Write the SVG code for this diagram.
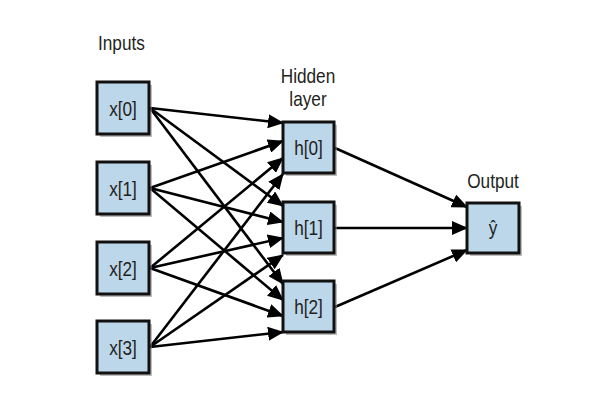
<svg xmlns="http://www.w3.org/2000/svg" width="589" height="400" viewBox="0 0 589 400">
<style>
text{font-family:"Liberation Sans",Arial,sans-serif;fill:#231f20;font-size:21px}
.m{text-anchor:middle}
.box{fill:#bcd6ea;stroke:#111;stroke-width:3}
.sh{fill:#888;opacity:0.55}
.e{stroke:#000;stroke-width:2.6;fill:none;marker-end:url(#ah)}
</style>
<defs>
<marker id="ah" markerUnits="userSpaceOnUse" markerWidth="16" markerHeight="14" refX="15" refY="7" orient="auto">
<path d="M0,0 L16,7 L0,14 Z" fill="#000"/>
</marker>
</defs>
<rect width="589" height="400" fill="#fff"/>
<text transform="translate(98,50) scale(0.82,1)">Inputs</text>
<text class="m" transform="translate(308,83) scale(0.82,1)">Hidden</text>
<text class="m" transform="translate(308,106) scale(0.82,1)">layer</text>
<text class="m" transform="translate(493,188) scale(0.82,1)">Output</text>
<g id="connectors">
<line class="e" x1="150" y1="108" x2="283" y2="123"/>
<line class="e" x1="150" y1="108" x2="283" y2="206"/>
<line class="e" x1="150" y1="108" x2="283" y2="284"/>
<line class="e" x1="150" y1="188" x2="283" y2="141"/>
<line class="e" x1="150" y1="188" x2="283" y2="222"/>
<line class="e" x1="150" y1="188" x2="283" y2="300"/>
<line class="e" x1="150" y1="268" x2="283" y2="158"/>
<line class="e" x1="150" y1="268" x2="283" y2="238"/>
<line class="e" x1="150" y1="268" x2="283" y2="316"/>
<line class="e" x1="150" y1="347" x2="283" y2="174"/>
<line class="e" x1="150" y1="347" x2="283" y2="255"/>
<line class="e" x1="150" y1="347" x2="283" y2="332"/>
<line class="e" x1="335" y1="148" x2="467" y2="207"/>
<line class="e" x1="335" y1="228" x2="467" y2="228"/>
<line class="e" x1="335" y1="307" x2="467" y2="250"/>
</g>
<g id="x0"><rect class="sh" x="100" y="85" width="52" height="52"/><rect class="box" x="97" y="82" width="52" height="52"/><text class="m" transform="translate(123,116) scale(0.82,1)">x[0]</text></g>
<g id="x1"><rect class="sh" x="100" y="165" width="52" height="52"/><rect class="box" x="97" y="162" width="52" height="52"/><text class="m" transform="translate(123,196) scale(0.82,1)">x[1]</text></g>
<g id="x2"><rect class="sh" x="100" y="245" width="52" height="52"/><rect class="box" x="97" y="242" width="52" height="52"/><text class="m" transform="translate(123,276) scale(0.82,1)">x[2]</text></g>
<g id="x3"><rect class="sh" x="100" y="324" width="52" height="52"/><rect class="box" x="97" y="321" width="52" height="52"/><text class="m" transform="translate(123,355) scale(0.82,1)">x[3]</text></g>
<g id="h0"><rect class="sh" x="286" y="125" width="51" height="51"/><rect class="box" x="283" y="122" width="51" height="51"/><text class="m" transform="translate(308.5,155) scale(0.82,1)">h[0]</text></g>
<g id="h1"><rect class="sh" x="286" y="205" width="51" height="51"/><rect class="box" x="283" y="202" width="51" height="51"/><text class="m" transform="translate(308.5,235) scale(0.82,1)">h[1]</text></g>
<g id="h2"><rect class="sh" x="286" y="284" width="51" height="51"/><rect class="box" x="283" y="281" width="51" height="51"/><text class="m" transform="translate(308.5,314) scale(0.82,1)">h[2]</text></g>
<g id="y"><rect class="sh" x="470" y="206" width="52" height="50"/><rect class="box" x="467" y="203" width="52" height="50"/><text class="m" transform="translate(493,235) scale(0.82,1)">ŷ</text></g>
</svg>
